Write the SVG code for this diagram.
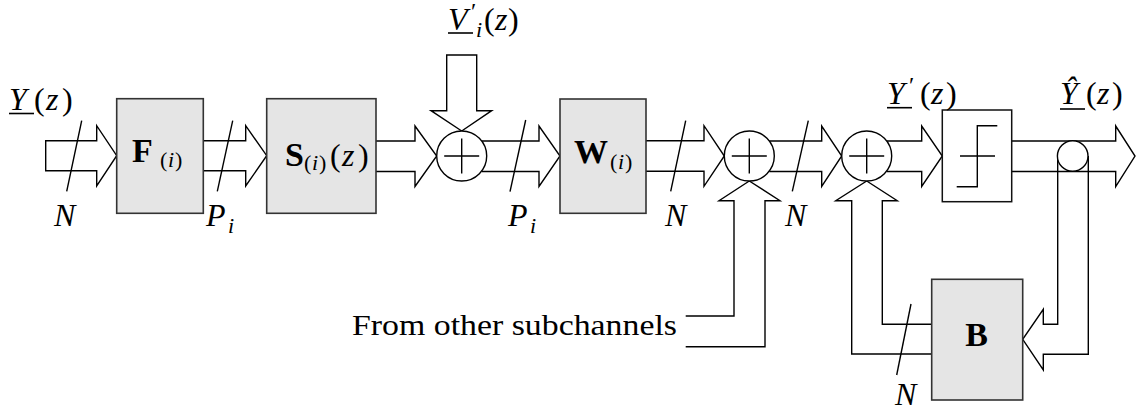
<svg xmlns="http://www.w3.org/2000/svg" width="1140" height="411" viewBox="0 0 1140 411">
<style>
.box{fill:#e5e5e5;stroke:#333;stroke-width:1.6}
.q{fill:#fff;stroke:#111;stroke-width:1.5}
.ar{fill:none;stroke:#000;stroke-width:1.4;stroke-linejoin:miter}
.ln{fill:none;stroke:#000;stroke-width:1.4}
.sum{fill:#fff;stroke:#000;stroke-width:1.4}
.ul{stroke:#000;stroke-width:1.6}
.m{font-family:"Liberation Serif","Times New Roman",serif;font-style:italic;font-weight:normal;font-size:32px;fill:#000}
.r{font-style:normal}
.b{font-family:"Liberation Serif","Times New Roman",serif;font-weight:bold;font-size:34px;fill:#000}
.s{font-size:22px}
.p{font-size:24px}
.t{font-family:"Liberation Serif","Times New Roman",serif;font-size:30px;fill:#000}
</style>
<rect width="1140" height="411" fill="#fff"/>
<g id="connectors">
<path class="ar" d="M45.7,140.7 H96.7 V125.7 L116.7,155.7 L96.7,186 V170.7 H45.7 Z"/>
<path class="ar" d="M203.3,140.7 H245.7 V125.7 L266.7,155.7 L245.7,186 V170.7 H203.3"/>
<path class="ar" d="M376,141 H415 V126 L436.7,156 L415,186.5 V171.5 H376"/>
<path class="ar" d="M431,110.7 H446.7 V55 H476.7 V110.7 H491.7 L461.7,131 Z"/>
<path class="ar" d="M481.7,141 H539 V126 L560,156 L539,186.5 V171.5 H481.7"/>
<path class="ar" d="M646,140.7 H704 V125.7 L724.3,156 L704,186.3 V171.3 H646"/>
<path class="ar" d="M769.3,141 H821.7 V126 L841.7,156 L821.7,186.5 V171.5 H769.3"/>
<path class="ar" d="M886.7,141 H921.7 V126 L942.3,156 L921.7,186.5 V171.5 H886.7"/>
<path class="ar" d="M1011.7,141 H1115.7 V126 L1135,156 L1115.7,186.5 V171.5 H1011.7"/>
<path class="ar" d="M685.7,316 H734 V200.7 H719 L749.3,181 L780,200.7 H765 V346.7 H685.7"/>
<path class="ar" d="M931.7,354 H851.7 V200.7 H835.7 L866.7,181 L897.3,200.7 H882.3 V324.3 H931.7"/>
<path class="ar" d="M1057.7,156 V324.3 H1043.3 V309.3 L1022.7,339.3 L1043.3,370 V354.3 H1088.3 V156"/>
<line class="ln" x1="81.7" y1="120.7" x2="66.7" y2="191.3"/>
<line class="ln" x1="232.7" y1="120.7" x2="217.3" y2="191.3"/>
<line class="ln" x1="525.7" y1="120" x2="510" y2="191.7"/>
<line class="ln" x1="685.7" y1="120.7" x2="670.7" y2="191.3"/>
<line class="ln" x1="808.3" y1="120.7" x2="792.3" y2="191.3"/>
<line class="ln" x1="911" y1="304" x2="896.7" y2="375"/>
</g>
<g id="F">
<rect class="box" x="116.7" y="98.7" width="86.6" height="114.6"/>
<text class="b" x="132" y="162">F</text>
<text class="m s" y="167"><tspan class="r" x="160">(</tspan><tspan x="168">i</tspan><tspan class="r" x="175">)</tspan></text>
</g>
<g id="S">
<rect class="box" x="266.7" y="98.7" width="109.3" height="114.6"/>
<text class="b" x="285" y="165.5">S</text>
<text class="m s" y="170"><tspan class="r" x="304">(</tspan><tspan x="312">i</tspan><tspan class="r" x="319">)</tspan></text>
<text class="m" y="165.5"><tspan class="r" x="330">(</tspan><tspan x="342">z</tspan><tspan class="r" x="358">)</tspan></text>
</g>
<g id="sum1">
<circle class="sum" cx="461.7" cy="156" r="25"/>
<path class="ln" d="M444.2,156 H479.2 M461.7,138.5 V173.5"/>
</g>
<g id="W">
<rect class="box" x="560" y="99" width="86" height="114.3"/>
<text class="b" x="574" y="163.3">W</text>
<text class="m s" y="169"><tspan class="r" x="610">(</tspan><tspan x="618">i</tspan><tspan class="r" x="625">)</tspan></text>
</g>
<g id="sum2">
<circle class="sum" cx="749.3" cy="156" r="25"/>
<path class="ln" d="M731.8,156 H766.8 M749.3,138.5 V173.5"/>
</g>
<g id="sum3">
<circle class="sum" cx="866.7" cy="156" r="25"/>
<path class="ln" d="M849.2,156 H884.2 M866.7,138.5 V173.5"/>
</g>
<g id="Q">
<rect class="q" x="942.3" y="110" width="69.4" height="91.7"/>
<path class="ln" d="M956.7,186.7 H977.3 V125.7 H997.3 M960,156 H995"/>
</g>
<g id="pickoff">
<circle class="sum" cx="1072.7" cy="156" r="15.3"/>
</g>
<g id="B">
<rect class="box" x="931.7" y="279.3" width="91" height="120.7"/>
<text class="b" x="976.7" y="346" text-anchor="middle">B</text>
</g>
<g id="labels">
<text class="m" y="110"><tspan x="9">Y</tspan><tspan class="r" x="34">(</tspan><tspan x="46">z</tspan><tspan class="r" x="62">)</tspan></text>
<line class="ul" x1="9" y1="113.5" x2="34" y2="113.5"/>
<text class="m" y="30"><tspan x="448">V</tspan><tspan class="p r" x="471" y="19">′</tspan><tspan class="s" x="476" y="37">i</tspan><tspan class="r" x="484" y="30">(</tspan><tspan x="495">z</tspan><tspan class="r" x="508">)</tspan></text>
<line class="ul" x1="448" y1="33" x2="473" y2="33"/>
<text class="m" y="104"><tspan x="887">Y</tspan><tspan class="p r" x="909" y="93">′</tspan><tspan class="r" x="920" y="104">(</tspan><tspan x="931">z</tspan><tspan class="r" x="946">)</tspan></text>
<line class="ul" x1="887" y1="107.7" x2="912" y2="107.7"/>
<text class="m" y="104"><tspan x="1060">Ŷ</tspan><tspan class="r" x="1086">(</tspan><tspan x="1097">z</tspan><tspan class="r" x="1112">)</tspan></text>
<line class="ul" x1="1060" y1="109" x2="1085" y2="109"/>
<text class="m" x="54" y="226">N</text>
<text class="m" x="206" y="226">P</text>
<text class="m s" x="228" y="233">i</text>
<text class="m" x="508" y="226">P</text>
<text class="m s" x="530" y="233">i</text>
<text class="m" x="665" y="226">N</text>
<text class="m" x="785" y="226">N</text>
<text class="m" x="895" y="405">N</text>
<text class="t" x="352" y="335" textLength="325" lengthAdjust="spacingAndGlyphs">From other subchannels</text>
</g>
</svg>
